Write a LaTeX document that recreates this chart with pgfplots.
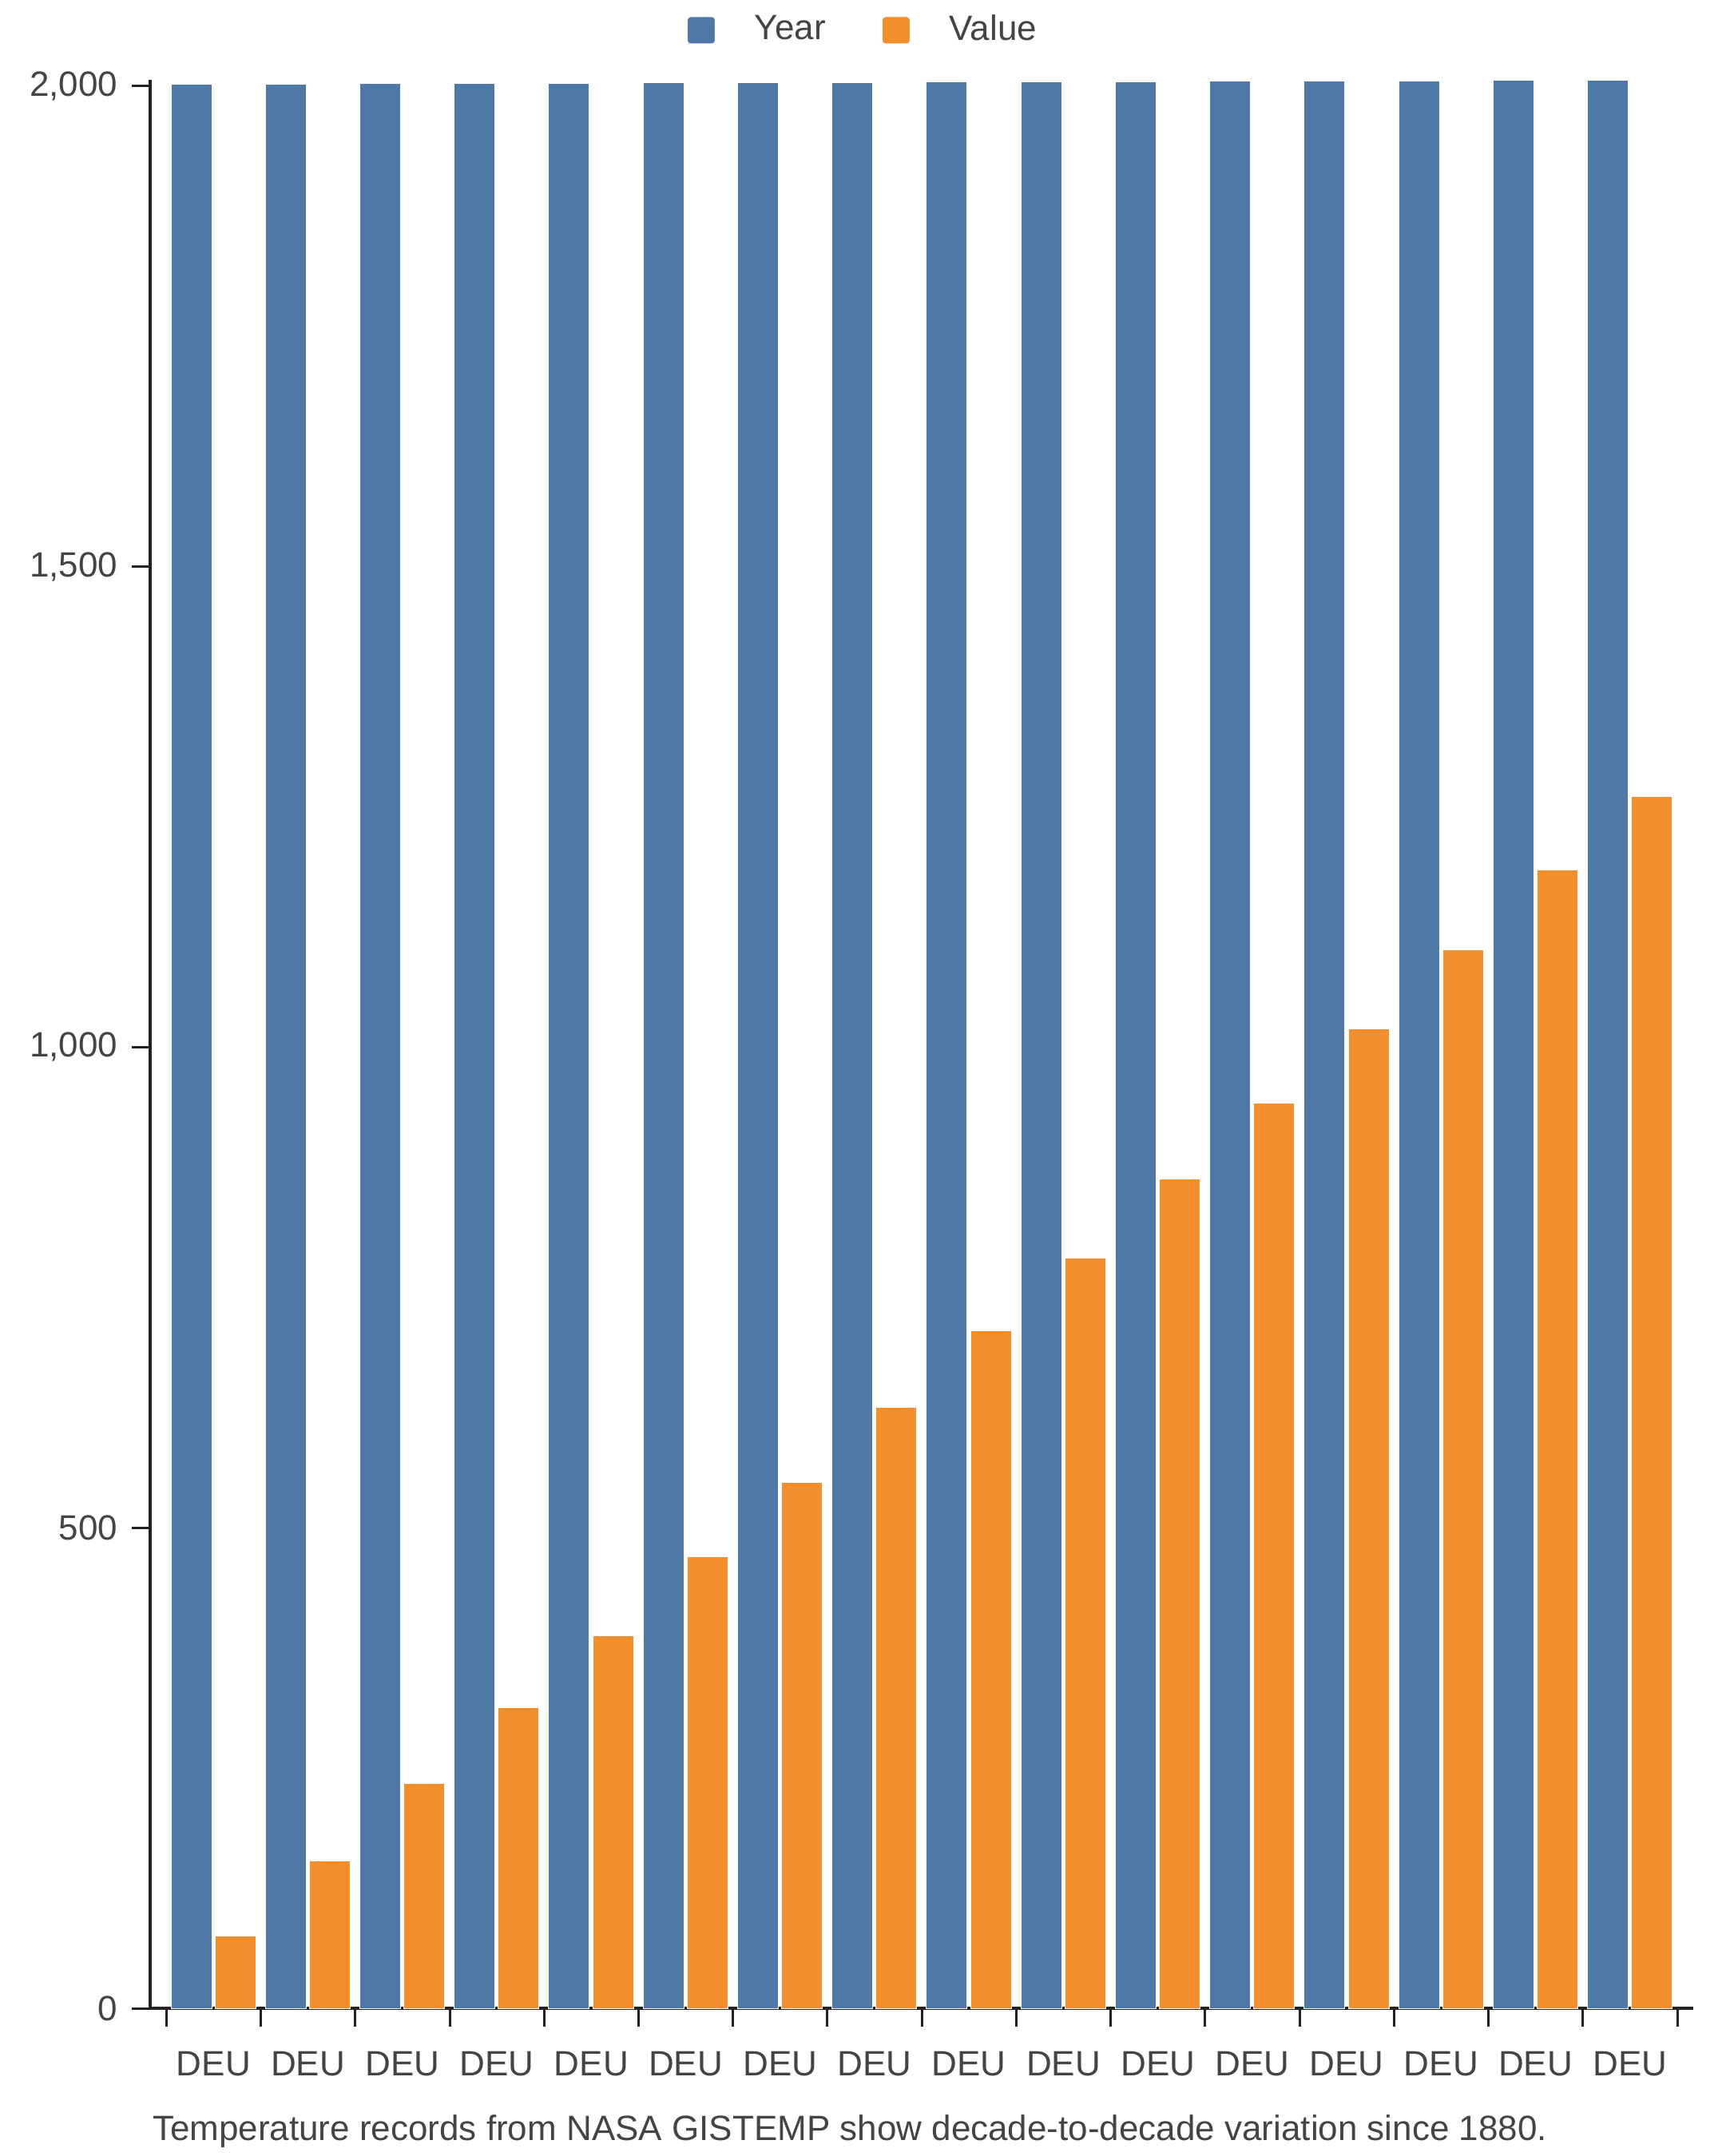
\documentclass[border=0pt]{standalone}
\usepackage{fontspec}
\setmainfont{Liberation Sans}
\usepackage{pgfplots}
\pgfplotsset{compat=1.18}
\definecolor{tblue}{HTML}{4E79A7}
\definecolor{torange}{HTML}{F28E2B}
\definecolor{txt}{HTML}{444444}
\definecolor{axc}{HTML}{222222}
\pgfplotstableread{
x year value
0 2001.7 75
1 2001.7 153
2 2002.8 234
3 2002.8 313
4 2002.8 388
5 2003.7 470
6 2003.7 547
7 2003.7 625
8 2004.7 705
9 2004.7 781
10 2004.7 863
11 2005.6 942
12 2005.6 1019
13 2005.6 1101
14 2006.4 1184
15 2006.4 1261
}\datatable
\begin{document}
\begin{tikzpicture}[x=1pt,y=1pt]
\path[use as bounding box] (0,0) rectangle (432,-540);
\begin{axis}[
  at={(37.6pt,-503pt)}, anchor=south west,
  scale only axis, width=386.4pt, height=483pt,
  xmin=-0.672, xmax=15.669, ymin=0, ymax=2006.5,
  clip=false,
  axis x line=bottom, axis y line=left,
  axis line style={axc,-},
  x axis line style={line width=0.8pt},
  y axis line style={line width=0.7pt},
  tick align=outside, major tick length=4.6pt,
  xtick={-0.5,0.5,...,15.5},
  xticklabels={DEU,DEU,DEU,DEU,DEU,DEU,DEU,DEU,DEU,DEU,DEU,DEU,DEU,DEU,DEU,DEU,{}},
  xticklabel style={xshift=11.82pt, yshift=-2.8pt, font=\fontsize{8.8}{10}\selectfont, text=txt},
  xtick style={axc, line width=0.6pt},
  ytick={0,500,1000,1500,2000},
  ytick style={axc, line width=0.6pt},
  yticklabel style={font=\fontsize{8.8}{10}\selectfont, text=txt},
  /pgf/number format/.cd, 1000 sep={,}, assume math mode=true, /pgfplots/.cd,
  ybar, bar width=0.431,
  legend style={at={(0.4638,1.0257)}, anchor=center, draw=none, fill=none,
    legend columns=2, font=\fontsize{8.8}{10}\selectfont, text=txt,
    /tikz/every odd column/.append style={column sep=7.8pt},
    /tikz/every even column/.append style={column sep=12pt}},
  legend image code/.code={\fill[#1, rounded corners=0.8pt] (0pt,-3.4pt) rectangle (7pt,3.4pt);},
]
\addplot[fill=tblue, draw=white, line width=0.2pt, bar shift=-0.236] table[x=x, y=year] {\datatable};
\addplot[fill=torange, draw=white, line width=0.2pt, bar shift=0.231] table[x=x, y=value] {\datatable};
\legend{Year, Value}
\end{axis}
\node[anchor=base west, text=txt, font=\fontsize{8.8}{10}\selectfont, inner sep=0pt] at (38pt,-536pt) {Temperature records from NASA GISTEMP show decade-to-decade variation since 1880.};
\end{tikzpicture}
\end{document}
